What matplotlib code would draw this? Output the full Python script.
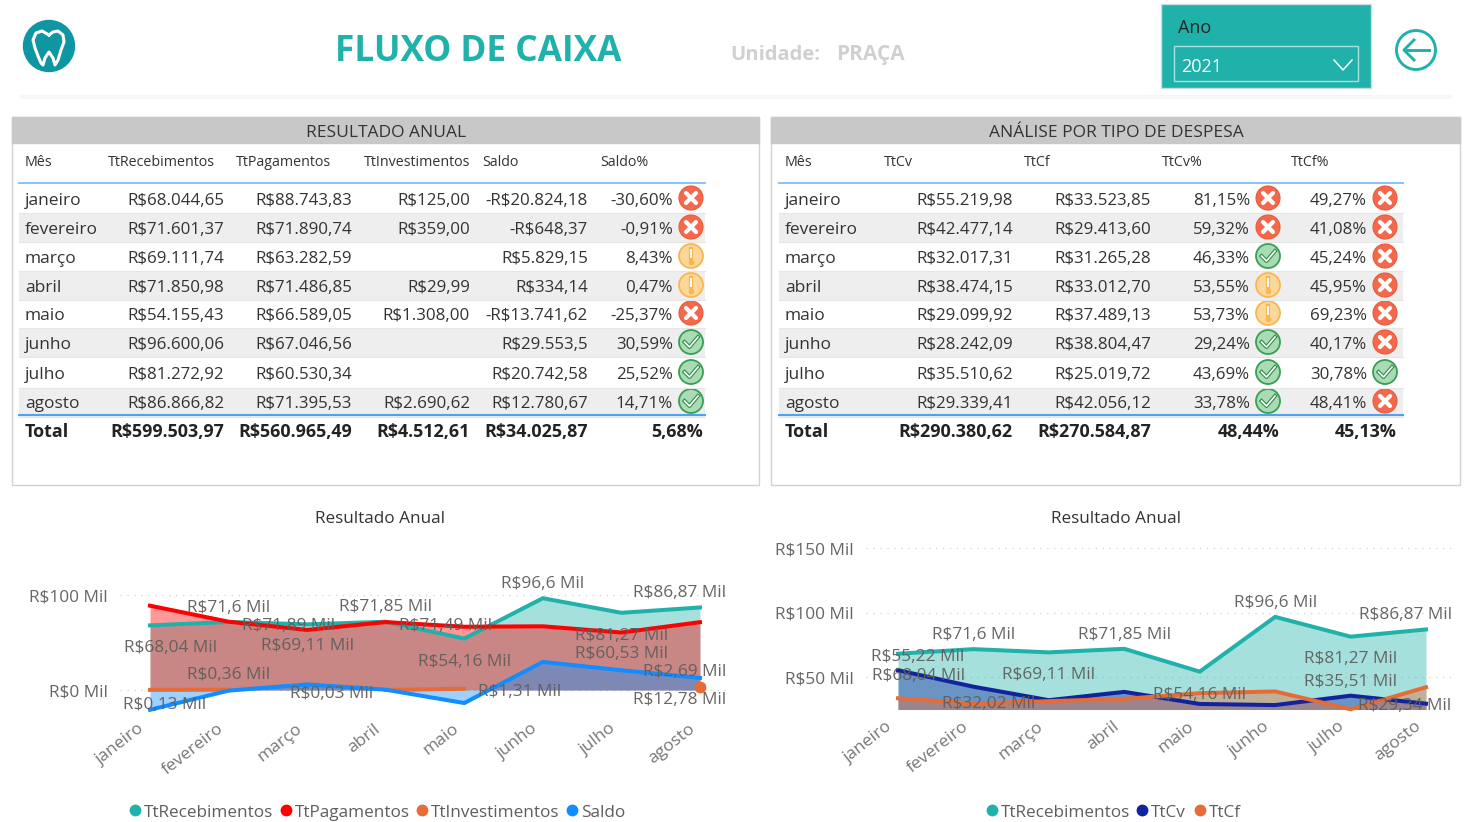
import matplotlib
matplotlib.use('Agg')
import matplotlib.pyplot as plt
from matplotlib.patches import Circle, Rectangle
from matplotlib.transforms import ScaledTranslation
import numpy as np

W, H = 1465, 822
plt.rcParams['font.family'] = ['Open Sans', 'DejaVu Sans']

meses = ['janeiro', 'fevereiro', 'março', 'abril', 'maio', 'junho', 'julho', 'agosto']

# ---------------------------TABLE DATA------------------------------------#
headersA = ['Mês', 'TtRecebimentos', 'TtPagamentos', 'TtInvestimentos', 'Saldo', 'Saldo%']
recebTxt = ['R$68.044,65', 'R$71.601,37', 'R$69.111,74', 'R$71.850,98', 'R$54.155,43', 'R$96.600,06', 'R$81.272,92', 'R$86.866,82']
pagTxt = ['R$88.743,83', 'R$71.890,74', 'R$63.282,59', 'R$71.486,85', 'R$66.589,05', 'R$67.046,56', 'R$60.530,34', 'R$71.395,53']
invTxt = ['R$125,00', 'R$359,00', '', 'R$29,99', 'R$1.308,00', '', '', 'R$2.690,62']
saldoTxt = ['-R$20.824,18', '-R$648,37', 'R$5.829,15', 'R$334,14', '-R$13.741,62', 'R$29.553,5', 'R$20.742,58', 'R$12.780,67']
saldoPct = ['-30,60%', '-0,91%', '8,43%', '0,47%', '-25,37%', '30,59%', '25,52%', '14,71%']
saldoIcon = ['x', 'x', '!', '!', 'x', 'v', 'v', 'v']
totalA = ['Total', 'R$599.503,97', 'R$560.965,49', 'R$4.512,61', 'R$34.025,87', '5,68%']

headersB = ['Mês', 'TtCv', 'TtCf', 'TtCv%', 'TtCf%']
cvTxt = ['R$55.219,98', 'R$42.477,14', 'R$32.017,31', 'R$38.474,15', 'R$29.099,92', 'R$28.242,09', 'R$35.510,62', 'R$29.339,41']
cfTxt = ['R$33.523,85', 'R$29.413,60', 'R$31.265,28', 'R$33.012,70', 'R$37.489,13', 'R$38.804,47', 'R$25.019,72', 'R$42.056,12']
cvPct = ['81,15%', '59,32%', '46,33%', '53,55%', '53,73%', '29,24%', '43,69%', '33,78%']
cfPct = ['49,27%', '41,08%', '45,24%', '45,95%', '69,23%', '40,17%', '30,78%', '48,41%']
cvIcon = ['x', 'x', 'v', '!', '!', 'v', 'v', 'v']
cfIcon = ['x', 'x', 'x', 'x', 'x', 'x', 'v', 'x']
totalB = ['Total', 'R$290.380,62', 'R$270.584,87', '48,44%', '45,13%']

# ---------------------------CHART DATA (R$ Mil)------------------------------------#
receb = [68.04, 71.60, 69.11, 71.85, 54.16, 96.60, 81.27, 86.87]
pag = [88.74, 71.89, 63.28, 71.49, 66.59, 67.05, 60.53, 71.40]
inv = [0.13, 0.36, np.nan, 0.03, 1.31, np.nan, np.nan, 2.69]
saldo = [-20.82, -0.65, 5.83, 0.33, -13.74, 29.55, 20.74, 12.78]
cv = [55.22, 42.48, 32.02, 38.47, 29.10, 28.24, 35.51, 29.34]
cf = [33.52, 29.41, 31.27, 33.01, 37.49, 38.80, 25.02, 42.06]

TEAL = '#20B2AA'
RED = '#FF0000'
ORANGE = '#E66C37'
BLUE = '#118DFF'
NAVY = '#12239E'
GRAY = '#605E5C'

fig = plt.figure(figsize=(W/100, H/100), dpi=100)
bg = fig.add_axes([0, 0, 1, 1])
bg.set_xlim(0, W)
bg.set_ylim(H, 0)
bg.axis('off')


# text sits about 2px high with va=center in this font
def T(x, y, s, **kw):
    bg.text(x, y+1.7, s, va='center', **kw)


# ---------------------------HEADER------------------------------------#
bg.add_patch(Circle((49, 46), 25.5, color='#0E97A3'))
bg.plot([49, 42, 36, 33, 35, 38, 41, 43, 45, 49, 53, 55, 58, 61, 64, 63, 58, 53, 49],
        [35, 31, 33, 40, 48, 56, 63, 65, 58, 52, 58, 65, 60, 50, 42, 35, 31, 32, 35],
        color='white', lw=2.2)
T(478, 50, 'FLUXO DE CAIXA', color=TEAL, fontsize=25.4, fontweight='bold', ha='center')
T(730, 53, 'Unidade:', color='#D0D0D0', fontsize=14.5, fontweight='bold')
T(836, 53, 'PRAÇA', color='#D0D0D0', fontsize=15, fontweight='bold')
bg.plot([22, 1450], [97, 97], color='#F6F6F6', lw=3)

bg.add_patch(Rectangle((1161, 4), 210, 84, facecolor=TEAL, edgecolor='#C8DEDC', lw=1))
T(1178, 26, 'Ano', color='#252423', fontsize=13)
bg.add_patch(Rectangle((1174, 46), 184, 35, facecolor='none', edgecolor='#A5E0DC', lw=1))
T(1181, 65, '2021', color='white', fontsize=13)
bg.plot([1334, 1343, 1352], [60, 70, 60], color='white', lw=1.1)

bg.add_patch(Circle((1416, 50), 19.5, facecolor='none', edgecolor=TEAL, lw=2.1))
bg.plot([1405, 1429], [50, 50], color=TEAL, lw=2.1)
bg.plot([1414, 1404, 1414], [40, 50, 60], color=TEAL, lw=2.1)


def icon(x, y, kind):
    if kind == 'x':
        bg.add_patch(Circle((x, y), 12, facecolor='#F4694B', edgecolor='#E85A3C', lw=0.8))
        bg.plot([x-5, x+5], [y-5, y+5], color='white', lw=3, solid_capstyle='round')
        bg.plot([x-5, x+5], [y+5, y-5], color='white', lw=3, solid_capstyle='round')
    elif kind == '!':
        bg.add_patch(Circle((x, y), 12, facecolor='#FBD79A', edgecolor='#F9B650', lw=1.3))
        bg.plot([x, x], [y-7, y+2], color='#F9B650', lw=3)
        bg.plot([x, x], [y-6, y+1], color='white', lw=1.4)
        bg.plot([x], [y+6], 'o', color='#F9B650', ms=3)
    else:
        bg.add_patch(Circle((x, y), 12, facecolor='#A9DCB4', edgecolor='#389E52', lw=1.3))
        bg.plot([x-6.5, x-1.5, x+7], [y, y+5, y-5], color='#2E8B47', lw=2.8)
        bg.plot([x-6.5, x-1.5, x+7], [y, y+5, y-5], color='white', lw=1.2)


# ---------------------------TABLES------------------------------------#
rowY = [199, 228, 257, 286, 314, 343, 373, 402]
TXT = '#333333'


def panel(x0, x1, title, tx0, tx1, headers, headX):
    bg.add_patch(Rectangle((x0, 117), x1-x0, 368, facecolor='white', edgecolor='#D2D2D2', lw=1))
    bg.add_patch(Rectangle((x0, 117), x1-x0, 26, facecolor='#C8C8C8', edgecolor='#C8C8C8', lw=1))
    T((x0+x1)/2+1, 131, title, color=TXT, fontsize=12.5, ha='center')
    for h, hx in zip(headers, headX):
        T(hx, 161, h, color=TXT, fontsize=10.3)
    for i, y in enumerate(rowY):
        if i % 2 == 1:
            bg.add_patch(Rectangle((tx0, y-14.5), tx1-tx0, 29, facecolor='#EEEEEE', edgecolor='none'))
        bg.plot([tx0, tx1], [y+14.5, y+14.5], color='#E6E6E6', lw=0.8)
    bg.plot([tx0, tx1], [183, 183], color='#8CC4F5', lw=1.5)
    bg.plot([tx0, tx1], [414.5, 414.5], color='#4FA3EE', lw=1.5)


panel(12, 759, 'RESULTADO ANUAL', 19, 705, headersA, [25, 108, 236, 364, 482, 600])
panel(771, 1460, 'ANÁLISE POR TIPO DE DESPESA', 779, 1403, headersB, [785, 884, 1024, 1162, 1291])

FS = 12.2
FM = 12.5
FB = 12.9
for i, y in enumerate(rowY):
    T(25, y, meses[i], color=TXT, fontsize=FM)
    T(224, y, recebTxt[i], color=TXT, fontsize=FS, ha='right')
    T(352, y, pagTxt[i], color=TXT, fontsize=FS, ha='right')
    T(470, y, invTxt[i], color=TXT, fontsize=FS, ha='right')
    T(588, y, saldoTxt[i], color=TXT, fontsize=FS, ha='right')
    T(673, y, saldoPct[i], color=TXT, fontsize=FS, ha='right')
    icon(691, y-1, saldoIcon[i])

    T(785, y, meses[i], color=TXT, fontsize=FM)
    T(1013, y, cvTxt[i], color=TXT, fontsize=FS, ha='right')
    T(1151, y, cfTxt[i], color=TXT, fontsize=FS, ha='right')
    T(1250, y, cvPct[i], color=TXT, fontsize=FS, ha='right')
    icon(1268, y-1, cvIcon[i])
    T(1367, y, cfPct[i], color=TXT, fontsize=FS, ha='right')
    icon(1385, y-1, cfIcon[i])

for t, tx, ha in zip(totalA, [25, 224, 352, 470, 588, 703], ['left']+['right']*5):
    T(tx, 430, t, color='#222222', fontsize=FB, fontweight='bold', ha=ha)
for t, tx, ha in zip(totalB, [785, 1013, 1151, 1280, 1397], ['left']+['right']*4):
    T(tx, 430, t, color='#222222', fontsize=FB, fontweight='bold', ha=ha)

T(380, 517, 'Resultado Anual', color=TXT, fontsize=12.3, ha='center')
T(1116, 517, 'Resultado Anual', color=TXT, fontsize=12.3, ha='center')


# ---------------------------CHARTS------------------------------------#
def chartAxes(left, right, top, bottom, x0, step, yZero, pxUnit):
    ax = fig.add_axes([left/W, 1-bottom/H, (right-left)/W, (bottom-top)/H])
    ax.set_facecolor('none')
    ax.set_xlim((left-x0)/step, (right-x0)/step)
    ax.set_ylim((yZero-bottom)/pxUnit, (yZero-top)/pxUnit)
    for s in ax.spines.values():
        s.set_visible(False)
    ax.grid(axis='y', color='#D9D9D9', linestyle=(0, (1, 4)), lw=1)
    ax.set_axisbelow(True)
    ax.set_xticks(range(len(meses)))
    ax.set_xticklabels(meses, rotation=38, ha='right', rotation_mode='anchor', color='#777777', fontsize=12.5)
    ax.tick_params(length=0, axis='x', pad=7)
    ax.tick_params(length=0, axis='y', pad=9, labelcolor='#666666', labelsize=12.4)
    # labels sit further left than the tick itself, has to come after tick_params
    shift = ScaledTranslation(-12/100, 1/100, fig.dpi_scale_trans)
    for lab in ax.get_xticklabels():
        lab.set_transform(lab.get_transform() + shift)
    return ax


def area(ax, values, color, base):
    x = np.arange(len(values))
    v = np.array(values, dtype=float)
    ax.fill_between(x, v, base, color=color, alpha=0.4, lw=0)
    ax.plot(x, v, color=color, lw=2.9, solid_joinstyle='miter', clip_on=False)


def labels(ax, values, idx, offsets):
    for i, off in zip(idx, offsets):
        txt = f'R${values[i]:.2f}'.rstrip('0').replace('.', ',') + ' Mil'
        ax.annotate(txt, (i, values[i]), xytext=(off[0], off[1]-2), textcoords='offset pixels', ha='center', va='center',
                    color=GRAY, fontsize=12.4, alpha=0.95, annotation_clip=False, zorder=6)


ax1 = chartAxes(120, 730, 560, 712, 150, 78.57, 690, 0.95)
ax1.set_yticks([0, 100])
ax1.set_yticklabels(['R$0 Mil', 'R$100 Mil'])
area(ax1, receb, TEAL, 0)
area(ax1, pag, RED, 0)
ax1.plot(range(8), inv, color=ORANGE, lw=2.9)
ax1.plot([7], [inv[7]], 'o', color=ORANGE, ms=7.5, clip_on=False)
area(ax1, saldo, BLUE, 0)
labels(ax1, receb, range(8), [(20, -21), (0, 16), (0, -20), (0, 17), (0, -21), (0, 16), (0, -21), (-20, 16)])
labels(ax1, pag, [1, 3, 6], [(60, -2), (60, -2), (0, -20)])
labels(ax1, inv, [0, 1, 3, 4, 7], [(15, -13), (0, 17), (-54, -2), (55, -1), (-15, 17)])
labels(ax1, saldo, [7], [(-20, -20)])

ax2 = chartAxes(866, 1455, 540, 709.5, 898, 75.43, 741.5, 1.29)
ax2.set_yticks([50, 100, 150])
ax2.set_yticklabels(['R$50 Mil', 'R$100 Mil', 'R$150 Mil'])
base2 = ax2.get_ylim()[0]
area(ax2, receb, TEAL, base2)
area(ax2, cv, NAVY, base2)
area(ax2, cf, ORANGE, base2)
labels(ax2, receb, range(8), [(20, -20), (0, 16), (0, -21), (0, 16), (0, -21), (0, 16), (0, -20), (-21, 16)])
labels(ax2, cv, [0, 2, 6, 7], [(20, 15), (-60, -2), (0, 16), (-21, 0)])


# ---------------------------LEGENDS------------------------------------#
def legend(names, colors, xs):
    for n, c, x in zip(names, colors, xs):
        bg.plot([x], [810], 'o', color=c, ms=7.5)
        T(x+9, 811, n, color=GRAY, fontsize=12.3)


legend(['TtRecebimentos', 'TtPagamentos', 'TtInvestimentos', 'Saldo'], [TEAL, RED, ORANGE, BLUE], [135, 286, 422, 572])
legend(['TtRecebimentos', 'TtCv', 'TtCf'], [TEAL, NAVY, ORANGE], [992, 1142, 1200])

plt.savefig('out.png', dpi=100)
plt.close()
